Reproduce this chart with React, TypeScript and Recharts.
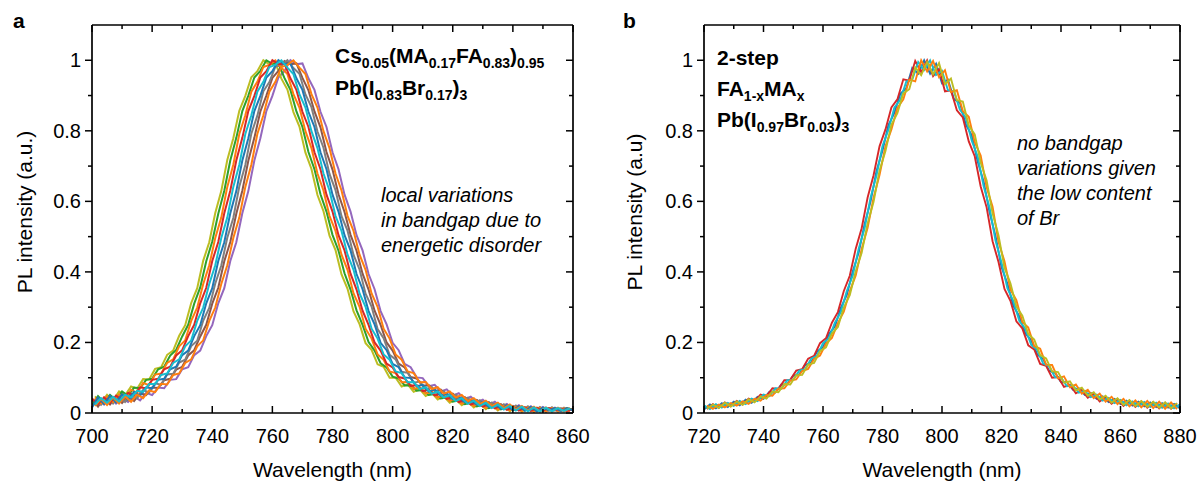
import React from 'react';
import { LineChart, Line, XAxis, YAxis } from 'recharts';

const FONT = '"Liberation Sans", Arial, Helvetica, sans-serif';

// ---------- Panel a : x grid 700..860 nm (even grid 700,702,..; odd grid 701,703,..) ----------
const A_RANGE: [number, number] = [700, 860];
const A_XTICKS = [700, 710, 720, 730, 740, 750, 760, 770, 780, 790, 800, 810, 820, 830, 840, 850, 860];

// odd grid (701..859)
const A_P759 = [
  0.047,0.029,0.052,0.035,0.061,0.050,0.075,0.069,0.096,0.095,
  0.125,0.130,0.165,0.177,0.219,0.249,0.312,0.354,0.432,0.484,
  0.567,0.629,0.717,0.779,0.857,0.899,0.952,0.969,1.000,0.988,
  0.992,0.948,0.917,0.853,0.812,0.738,0.692,0.618,0.572,0.503,
  0.462,0.393,0.352,0.288,0.252,0.198,0.179,0.138,0.131,0.100,
  0.100,0.075,0.081,0.060,0.068,0.048,0.057,0.038,0.047,0.029,
  0.039,0.022,0.033,0.016,0.027,0.011,0.023,0.007,0.020,0.005,
  0.018,0.004,0.016,0.005,0.015,0.006,0.014,0.005,0.013,0.007,
];
// even grid (700..860)
const A_P760 = [
  0.022,0.048,0.030,0.051,0.036,0.061,0.049,0.072,0.070,0.094,
  0.097,0.124,0.131,0.163,0.179,0.217,0.250,0.310,0.356,0.430,
  0.486,0.565,0.630,0.716,0.780,0.856,0.900,0.951,0.970,1.000,
  0.990,0.991,0.950,0.916,0.855,0.811,0.740,0.691,0.620,0.571,
  0.505,0.460,0.396,0.350,0.291,0.250,0.201,0.177,0.141,0.129,
  0.103,0.098,0.078,0.079,0.063,0.065,0.051,0.054,0.041,0.044,
  0.032,0.036,0.025,0.030,0.019,0.024,0.014,0.020,0.010,0.017,
  0.008,0.015,0.007,0.013,0.006,0.014,0.008,0.012,0.007,0.013,
  0.009,
];
const A_P761 = [
  0.043,0.027,0.047,0.031,0.053,0.041,0.066,0.057,0.085,0.079,
  0.109,0.112,0.142,0.152,0.189,0.206,0.261,0.299,0.366,0.419,
  0.496,0.554,0.641,0.704,0.791,0.844,0.911,0.939,0.981,0.987,
  1.000,0.979,0.961,0.904,0.866,0.799,0.751,0.679,0.631,0.559,
  0.516,0.449,0.406,0.339,0.301,0.239,0.211,0.166,0.151,0.118,
  0.113,0.087,0.088,0.068,0.073,0.055,0.061,0.044,0.051,0.034,
  0.042,0.026,0.035,0.020,0.029,0.014,0.024,0.010,0.020,0.007,
  0.018,0.005,0.016,0.004,0.015,0.005,0.014,0.006,0.013,0.005,
];
const A_P762 = [
  0.041,0.025,0.044,0.029,0.049,0.037,0.057,0.051,0.073,0.070,
  0.094,0.097,0.124,0.131,0.163,0.178,0.218,0.250,0.311,0.355,
  0.431,0.485,0.566,0.630,0.716,0.780,0.856,0.899,0.951,0.969,
  1.000,0.989,0.991,0.949,0.916,0.854,0.811,0.739,0.691,0.619,
  0.571,0.504,0.461,0.395,0.350,0.290,0.250,0.200,0.177,0.140,
  0.129,0.102,0.098,0.077,0.079,0.062,0.066,0.050,0.055,0.040,
  0.045,0.031,0.037,0.024,0.031,0.018,0.025,0.013,0.021,0.009,
  0.017,0.007,0.015,0.006,0.014,0.007,0.013,0.008,0.012,0.006,
  0.011,
];
const A_P763 = [
  0.024,0.042,0.029,0.046,0.033,0.052,0.044,0.063,0.060,0.082,
  0.082,0.108,0.112,0.142,0.152,0.189,0.206,0.261,0.299,0.366,
  0.419,0.496,0.554,0.641,0.704,0.791,0.844,0.911,0.939,0.981,
  0.987,1.000,0.979,0.961,0.904,0.866,0.799,0.751,0.679,0.631,
  0.559,0.516,0.449,0.406,0.339,0.301,0.239,0.211,0.166,0.151,
  0.118,0.113,0.087,0.088,0.068,0.073,0.055,0.061,0.044,0.051,
  0.034,0.042,0.026,0.035,0.020,0.029,0.014,0.024,0.010,0.020,
  0.007,0.018,0.005,0.016,0.004,0.015,0.005,0.014,0.006,0.013,
];
const A_P764 = [
  0.016,0.044,0.026,0.049,0.030,0.053,0.037,0.060,0.049,0.073,
  0.070,0.094,0.097,0.124,0.131,0.164,0.177,0.218,0.249,0.311,
  0.354,0.431,0.484,0.566,0.629,0.716,0.779,0.856,0.899,0.951,
  0.969,1.000,0.989,0.991,0.949,0.916,0.854,0.811,0.739,0.691,
  0.619,0.571,0.504,0.461,0.394,0.351,0.289,0.251,0.199,0.178,
  0.139,0.130,0.101,0.099,0.076,0.080,0.061,0.067,0.049,0.056,
  0.039,0.046,0.030,0.038,0.023,0.032,0.017,0.026,0.012,0.022,
  0.008,0.019,0.006,0.017,0.005,0.015,0.007,0.014,0.006,0.013,
  0.008,
];
const A_P765 = [
  0.039,0.023,0.043,0.027,0.047,0.031,0.052,0.042,0.065,0.058,
  0.084,0.080,0.109,0.111,0.143,0.151,0.190,0.205,0.262,0.298,
  0.367,0.418,0.497,0.553,0.642,0.703,0.792,0.843,0.912,0.938,
  0.982,0.986,1.000,0.978,0.962,0.903,0.867,0.798,0.752,0.678,
  0.632,0.558,0.517,0.448,0.407,0.338,0.302,0.238,0.212,0.165,
  0.152,0.117,0.114,0.086,0.089,0.067,0.074,0.054,0.062,0.043,
  0.052,0.033,0.043,0.025,0.036,0.019,0.030,0.013,0.025,0.009,
  0.021,0.006,0.019,0.004,0.017,0.003,0.016,0.004,0.015,0.005,
];
const A_P766 = [
  0.038,0.018,0.043,0.024,0.045,0.028,0.049,0.034,0.056,0.051,
  0.072,0.071,0.093,0.097,0.123,0.131,0.163,0.178,0.217,0.250,
  0.310,0.355,0.430,0.485,0.565,0.630,0.715,0.780,0.855,0.900,
  0.950,0.970,0.998,0.989,0.991,0.950,0.915,0.855,0.810,0.740,
  0.690,0.620,0.570,0.505,0.460,0.395,0.350,0.290,0.250,0.200,
  0.177,0.140,0.129,0.102,0.098,0.077,0.079,0.062,0.066,0.050,
  0.055,0.040,0.045,0.031,0.037,0.024,0.031,0.018,0.025,0.013,
  0.020,0.009,0.017,0.007,0.015,0.006,0.014,0.007,0.013,0.006,
  0.012,
];
const A_P767 = [
  0.020,0.040,0.023,0.044,0.027,0.047,0.032,0.052,0.042,0.064,
  0.059,0.083,0.081,0.108,0.112,0.142,0.152,0.189,0.206,0.261,
  0.299,0.366,0.419,0.496,0.554,0.641,0.704,0.791,0.844,0.911,
  0.939,0.981,0.987,1.000,0.979,0.961,0.904,0.866,0.799,0.751,
  0.679,0.631,0.559,0.516,0.449,0.406,0.339,0.301,0.239,0.211,
  0.166,0.151,0.118,0.113,0.087,0.088,0.068,0.073,0.055,0.061,
  0.044,0.051,0.034,0.042,0.026,0.035,0.020,0.029,0.014,0.024,
  0.010,0.020,0.007,0.018,0.005,0.016,0.004,0.015,0.005,0.014,
];
const A_P768 = [
  0.021,0.041,0.024,0.046,0.027,0.042,0.031,0.047,0.036,0.057,
  0.051,0.072,0.070,0.094,0.096,0.124,0.130,0.164,0.177,0.218,
  0.249,0.311,0.354,0.431,0.484,0.566,0.629,0.716,0.779,0.856,
  0.899,0.951,0.969,1.000,0.989,0.991,0.949,0.916,0.854,0.811,
  0.739,0.691,0.619,0.571,0.504,0.461,0.394,0.351,0.289,0.251,
  0.199,0.178,0.139,0.130,0.101,0.099,0.076,0.080,0.061,0.067,
  0.049,0.056,0.039,0.046,0.030,0.038,0.023,0.032,0.017,0.026,
  0.012,0.022,0.008,0.019,0.006,0.017,0.007,0.015,0.006,0.014,
  0.008,
];

// ---------- Panel b : x grid 720..880 nm ----------
const B_RANGE: [number, number] = [720, 880];
const B_XTICKS = [720, 730, 740, 750, 760, 770, 780, 790, 800, 810, 820, 830, 840, 850, 860, 870, 880];

const B_E1 = [
  0.010,0.024,0.013,0.028,0.017,0.032,0.022,0.038,0.029,0.046,
  0.040,0.060,0.058,0.081,0.082,0.106,0.109,0.136,0.143,0.174,
  0.187,0.224,0.245,0.298,0.335,0.401,0.455,0.536,0.600,0.686,
  0.744,0.816,0.851,0.905,0.921,0.978,0.962,1.000,0.962,0.990,
  0.935,0.945,0.890,0.880,0.818,0.787,0.713,0.656,0.569,0.501,
  0.414,0.366,0.304,0.274,0.226,0.206,0.166,0.153,0.120,0.114,
  0.088,0.088,0.066,0.070,0.051,0.057,0.040,0.047,0.031,0.040,
  0.025,0.035,0.021,0.032,0.019,0.030,0.017,0.028,0.015,0.026,
  0.013,
];
const B_E2 = [
  0.022,0.011,0.025,0.015,0.029,0.020,0.034,0.025,0.041,0.034,
  0.052,0.048,0.070,0.069,0.093,0.094,0.120,0.124,0.154,0.162,
  0.198,0.212,0.256,0.286,0.346,0.389,0.466,0.524,0.611,0.674,
  0.757,0.803,0.866,0.888,0.940,0.945,0.995,0.972,1.000,0.958,
  0.970,0.915,0.912,0.860,0.837,0.772,0.727,0.643,0.582,0.488,
  0.427,0.353,0.317,0.261,0.239,0.193,0.179,0.140,0.133,0.101,
  0.101,0.076,0.078,0.058,0.063,0.045,0.052,0.035,0.043,0.028,
  0.037,0.022,0.033,0.019,0.031,0.017,0.029,0.015,0.027,0.013,
  0.025,
];
// odd grid (721..879)
const B_O1 = [
  0.021,0.012,0.024,0.016,0.028,0.021,0.033,0.026,0.040,0.035,
  0.051,0.049,0.069,0.070,0.092,0.095,0.119,0.125,0.153,0.163,
  0.197,0.213,0.255,0.287,0.345,0.390,0.465,0.525,0.610,0.675,
  0.756,0.804,0.865,0.889,0.945,0.940,1.000,0.968,0.998,0.952,
  0.972,0.910,0.915,0.856,0.840,0.768,0.730,0.640,0.585,0.485,
  0.430,0.350,0.320,0.258,0.242,0.190,0.182,0.137,0.136,0.098,
  0.104,0.073,0.081,0.055,0.066,0.042,0.055,0.032,0.046,0.025,
  0.040,0.019,0.036,0.016,0.034,0.014,0.032,0.012,0.030,0.011,
];
const B_O2 = [
  0.011,0.025,0.015,0.030,0.019,0.034,0.024,0.041,0.033,0.052,
  0.047,0.070,0.068,0.093,0.094,0.120,0.124,0.154,0.162,0.198,
  0.212,0.256,0.286,0.346,0.389,0.466,0.524,0.611,0.674,0.756,
  0.804,0.866,0.889,0.946,0.942,0.998,0.966,1.000,0.955,0.975,
  0.912,0.915,0.858,0.838,0.770,0.728,0.642,0.583,0.487,0.428,
  0.352,0.318,0.260,0.240,0.192,0.180,0.139,0.134,0.100,0.102,
  0.074,0.080,0.056,0.065,0.043,0.054,0.033,0.045,0.026,0.039,
  0.020,0.035,0.017,0.033,0.015,0.031,0.013,0.029,0.012,0.027,
];
const B_O3 = [
  0.012,0.024,0.014,0.029,0.018,0.033,0.023,0.039,0.030,0.047,
  0.041,0.061,0.059,0.082,0.081,0.107,0.108,0.137,0.142,0.175,
  0.186,0.225,0.244,0.299,0.334,0.402,0.454,0.537,0.599,0.687,
  0.743,0.817,0.850,0.906,0.918,0.980,0.958,0.996,0.960,0.992,
  0.932,0.948,0.887,0.883,0.815,0.790,0.710,0.659,0.566,0.503,
  0.412,0.368,0.302,0.276,0.224,0.208,0.164,0.155,0.118,0.116,
  0.086,0.090,0.064,0.072,0.049,0.059,0.038,0.049,0.029,0.042,
  0.023,0.037,0.019,0.034,0.017,0.032,0.015,0.030,0.013,0.028,
];

const Y_TICKS = [0, 0.1, 0.2, 0.3, 0.4, 0.5, 0.6, 0.7, 0.8, 0.9, 1];
const Y_DOMAIN: [number, number] = [0, 1.1];

type Series = { key: string; grid: 'even' | 'odd'; values: number[]; color: string };

const A_SERIES: Series[] = [
  { key: 'p768', grid: 'even', values: A_P768, color: '#9467bd' },
  { key: 'p759', grid: 'odd', values: A_P759, color: '#bcbd22' },
  { key: 'p766', grid: 'even', values: A_P766, color: '#8c564b' },
  { key: 'p760', grid: 'even', values: A_P760, color: '#2ca02c' },
  { key: 'p765', grid: 'odd', values: A_P765, color: '#7f7f7f' },
  { key: 'p761', grid: 'odd', values: A_P761, color: '#ff7f0e' },
  { key: 'p762', grid: 'even', values: A_P762, color: '#d62728' },
  { key: 'p764', grid: 'even', values: A_P764, color: '#1f77b4' },
  { key: 'p767', grid: 'odd', values: A_P767, color: '#ff7f0e' },
  { key: 'p763', grid: 'odd', values: A_P763, color: '#17becf' },
];

const B_SERIES: Series[] = [
  { key: 'e1', grid: 'even', values: B_E1, color: '#1f77b4' },
  { key: 'o2', grid: 'odd', values: B_O2, color: '#d62728' },
  { key: 'e2', grid: 'even', values: B_E2, color: '#17becf' },
  { key: 'o1', grid: 'odd', values: B_O1, color: '#ff7f0e' },
  { key: 'o3', grid: 'odd', values: B_O3, color: '#bcbd22' },
];

function buildRows(range: [number, number], series: Series[]) {
  const rows: any[] = [];
  for (let wl = range[0]; wl <= range[1]; wl++) {
    const row: any = { wl };
    const isEven = (wl - range[0]) % 2 === 0;
    for (const s of series) {
      if (s.grid === 'even' && isEven) row[s.key] = s.values[(wl - range[0]) / 2];
      if (s.grid === 'odd' && !isEven) row[s.key] = s.values[(wl - range[0] - 1) / 2];
    }
    rows.push(row);
  }
  return rows;
}

const TICK_W = 1.5;

const BottomTick = (p: any) => {
  const v = p.payload.value;
  const major = Math.round(v) % 20 === 0;
  return (
    <g>
      <line x1={p.x} x2={p.x} y1={p.y} y2={p.y - (major ? 7 : 4)} stroke="#000" strokeWidth={TICK_W} />
      {major && (
        <text x={p.x} y={p.y + 30} textAnchor="middle" fontSize={20} fontFamily={FONT} fill="#000">{v}</text>
      )}
    </g>
  );
};
const TopTick = (p: any) => {
  const v = p.payload.value;
  const major = Math.round(v) % 20 === 0;
  return <line x1={p.x} x2={p.x} y1={p.y} y2={p.y + (major ? 7 : 4)} stroke="#000" strokeWidth={TICK_W} />;
};
const yLabel = (v: number) => (v === 0 ? '0' : v === 1 ? '1' : v.toFixed(1));
const LeftTick = (p: any) => {
  const v = p.payload.value;
  const major = Math.round(v * 10) % 2 === 0;
  return (
    <g>
      <line x1={p.x} x2={p.x - (major ? 7 : 4)} y1={p.y} y2={p.y} stroke="#000" strokeWidth={TICK_W} />
      {major && (
        <text x={p.x - 11} y={p.y + 7} textAnchor="end" fontSize={20} fontFamily={FONT} fill="#000">{yLabel(v)}</text>
      )}
    </g>
  );
};
const RightTick = (p: any) => {
  const v = p.payload.value;
  const major = Math.round(v * 10) % 2 === 0;
  return <line x1={p.x} x2={p.x - (major ? 7 : 4)} y1={p.y} y2={p.y} stroke="#000" strokeWidth={TICK_W} />;
};

const AXIS_LINE = { stroke: '#000', strokeWidth: 1.7 };

function Panel(props: { left: number; range: [number, number]; xticks: number[]; series: Series[]; margin: any; lineWidth: number }) {
  const { left, range, xticks, series, margin, lineWidth } = props;
  const rows = buildRows(range, series);
  return (
    <div style={{ position: 'absolute', left, top: 0 }}>
      <LineChart width={600} height={481} data={rows} margin={margin}>
        <XAxis dataKey="wl" type="number" domain={range} ticks={xticks} interval={0} allowDataOverflow
          height={10} tickSize={0} tickMargin={0} tickLine={false} axisLine={AXIS_LINE}
          tick={(p: any) => <BottomTick {...p} />} />
        <XAxis xAxisId="top" orientation="top" dataKey="wl" type="number" domain={range} ticks={xticks} interval={0} allowDataOverflow
          height={10} tickSize={0} tickMargin={0} tickLine={false} axisLine={AXIS_LINE}
          tick={(p: any) => <TopTick {...p} />} />
        <YAxis type="number" domain={Y_DOMAIN} ticks={Y_TICKS} interval={0} allowDataOverflow
          width={10} tickSize={0} tickMargin={0} tickLine={false} axisLine={AXIS_LINE}
          tick={(p: any) => <LeftTick {...p} />} />
        <YAxis yAxisId="right" orientation="right" type="number" domain={Y_DOMAIN} ticks={Y_TICKS} interval={0} allowDataOverflow
          width={10} tickSize={0} tickMargin={0} tickLine={false} axisLine={AXIS_LINE}
          tick={(p: any) => <RightTick {...p} />} />
        {series.map((s) => (
          <Line key={s.key} dataKey={s.key} type="linear" stroke={s.color} strokeWidth={lineWidth}
            dot={false} activeDot={false} connectNulls isAnimationActive={false} />
        ))}
      </LineChart>
    </div>
  );
}

const SUB = 14;
const SUBDY = 5;

export default function App() {
  return (
    <div style={{ position: 'absolute', left: 0, top: 0, width: 1200, height: 481, background: '#fff', overflow: 'hidden' }}>
      <Panel left={0} range={A_RANGE} xticks={A_XTICKS} series={A_SERIES} lineWidth={2}
        margin={{ top: 15, right: 17, bottom: 58, left: 82 }} />
      <Panel left={600} range={B_RANGE} xticks={B_XTICKS} series={B_SERIES} lineWidth={1.9}
        margin={{ top: 15, right: 10, bottom: 58, left: 94 }} />
      <svg width={1200} height={481} style={{ position: 'absolute', left: 0, top: 0, pointerEvents: 'none' }} fontFamily={FONT}>
        <text x={13} y={28} fontSize={21} fontWeight="bold">a</text>
        <text x={623} y={28} fontSize={21} fontWeight="bold">b</text>

        <text transform="translate(24,212) rotate(-90)" textAnchor="middle" fontSize={21} dominantBaseline="central">PL intensity (a.u.)</text>
        <text transform="translate(634,212) rotate(-90)" textAnchor="middle" fontSize={21} dominantBaseline="central">PL intensity (a.u)</text>

        <text x={332.5} y={477} textAnchor="middle" fontSize={21}>Wavelength (nm)</text>
        <text x={942} y={477} textAnchor="middle" fontSize={21}>Wavelength (nm)</text>

        <text x={335} y={63} fontSize={21} fontWeight="bold">
          Cs<tspan fontSize={SUB} dy={SUBDY}>0.05</tspan><tspan dy={-SUBDY}>(MA</tspan><tspan fontSize={SUB} dy={SUBDY}>0.17</tspan><tspan dy={-SUBDY}>FA</tspan><tspan fontSize={SUB} dy={SUBDY}>0.83</tspan><tspan dy={-SUBDY}>)</tspan><tspan fontSize={SUB} dy={SUBDY}>0.95</tspan>
        </text>
        <text x={335} y={95} fontSize={21} fontWeight="bold">
          Pb(I<tspan fontSize={SUB} dy={SUBDY}>0.83</tspan><tspan dy={-SUBDY}>Br</tspan><tspan fontSize={SUB} dy={SUBDY}>0.17</tspan><tspan dy={-SUBDY}>)</tspan><tspan fontSize={SUB} dy={SUBDY}>3</tspan>
        </text>

        <text x={381} y={202} fontSize={20} fontStyle="italic">local variations</text>
        <text x={381} y={227} fontSize={20} fontStyle="italic">in bandgap due to</text>
        <text x={381} y={252} fontSize={20} fontStyle="italic">energetic disorder</text>

        <text x={717} y={65} fontSize={21} fontWeight="bold">2-step</text>
        <text x={717} y={96} fontSize={21} fontWeight="bold">
          FA<tspan fontSize={SUB} dy={SUBDY}>1-x</tspan><tspan dy={-SUBDY}>MA</tspan><tspan fontSize={SUB} dy={SUBDY}>x</tspan>
        </text>
        <text x={717} y={127} fontSize={21} fontWeight="bold">
          Pb(I<tspan fontSize={SUB} dy={SUBDY}>0.97</tspan><tspan dy={-SUBDY}>Br</tspan><tspan fontSize={SUB} dy={SUBDY}>0.03</tspan><tspan dy={-SUBDY}>)</tspan><tspan fontSize={SUB} dy={SUBDY}>3</tspan>
        </text>

        <text x={1017} y={150} fontSize={20} fontStyle="italic">no bandgap</text>
        <text x={1017} y={175} fontSize={20} fontStyle="italic">variations given</text>
        <text x={1017} y={200} fontSize={20} fontStyle="italic">the low content</text>
        <text x={1017} y={225} fontSize={20} fontStyle="italic">of Br</text>
      </svg>
    </div>
  );
}
